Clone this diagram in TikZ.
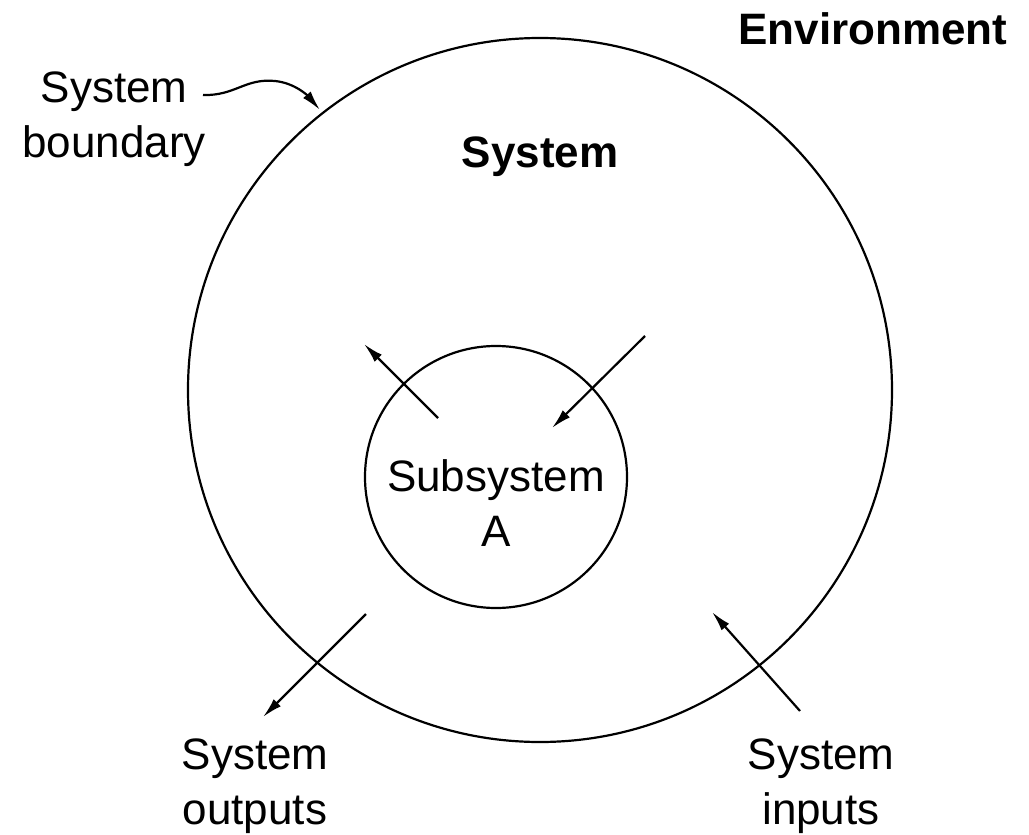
\documentclass[tikz,border=0pt]{standalone}
\usepackage{fontspec}
\setmainfont{Liberation Sans}
\usetikzlibrary{arrows.meta}
\tikzset{
  lbl/.style={align=center, inner sep=0pt, font=\fontsize{44}{55}\selectfont},
  blbl/.style={lbl, font=\fontsize{44}{55}\selectfont\bfseries},
  ln/.style={line width=2.2pt, draw=black},
  arr/.style={ln, -{Latex[length=20pt,width=10pt]}}
}
\begin{document}
\begin{tikzpicture}[x=1pt,y=-1pt]
\useasboundingbox (0,0) rectangle (1029,835);
% circles
\node[ln, circle, minimum size=704pt, inner sep=0pt] (sys) at (540,390) {};
\node[ln, circle, minimum size=262pt, inner sep=0pt] (subc) at (496,477) {};
% labels
\node[blbl] (env) at (873,29) {Environment};
\node[blbl] (sysl) at (540,157) {System};
\node[lbl] (sub) at (496,503) {Subsystem\\A};
\node[lbl] (bnd) at (114,119) {System\\boundary};
\node[lbl] (out) at (255,786) {System\\outputs};
\node[lbl] (inp) at (821,786) {System\\inputs};
% connector coordinates
\coordinate (b0) at (203,95);
\coordinate (b1) at (320,110);
\coordinate (ul0) at (438,418);
\coordinate (ul1) at (364,344);
\coordinate (ur0) at (645,336);
\coordinate (ur1) at (552,428);
\coordinate (ll0) at (366,614);
\coordinate (ll1) at (263,717);
\coordinate (lr0) at (800,711);
\coordinate (lr1) at (712,612);
% arrows
\draw[arr] (b0) .. controls (235,96) and (245,78) .. (275,81) .. controls (295,83) and (308,96) .. (b1);
\draw[arr] (ul0) -- (ul1);
\draw[arr] (ur0) -- (ur1);
\draw[arr] (ll0) -- (ll1);
\draw[arr] (lr0) -- (lr1);
\end{tikzpicture}
\end{document}
